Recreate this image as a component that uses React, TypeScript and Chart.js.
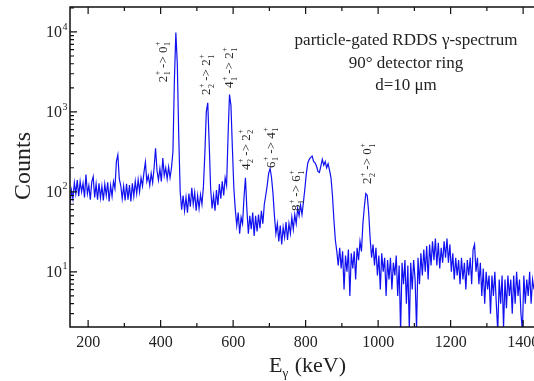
import React, { useEffect, useRef } from 'react';
import { Chart, registerables } from 'chart.js';

Chart.register(...registerables);

// ---- spectrum data: counts per 4 keV bin, first bin at 150 keV ----
const binStartKeV = 150;
const binWidthKeV = 4;
const counts: number[] = [
  70, 105, 82, 130, 95, 140, 88, 135, 100, 128, // 150-186
  85, 165, 95, 120, 80, 132, 155, 85, 125, 80, // 190-226
  128, 84, 118, 78, 125, 90, 132, 76, 120, 88, // 230-266
  135, 110, 240, 290, 145, 120, 82, 118, 78, 126, // 270-306
  80, 122, 76, 128, 88, 135, 95, 142, 100, 150, // 310-346
  118, 175, 235, 135, 160, 120, 170, 130, 200, 350, // 350-386
  185, 140, 195, 135, 265, 160, 200, 145, 205, 150, // 390-426
  200, 320, 2500, 9800, 4000, 500, 100, 60, 90, 58, // 430-466
  85, 55, 95, 65, 112, 70, 98, 58, 90, 62, // 470-506
  92, 70, 115, 300, 1000, 1300, 400, 110, 62, 90, // 510-546
  58, 105, 68, 125, 82, 135, 90, 150, 120, 500, // 550-586
  1650, 1200, 350, 110, 60, 38, 55, 30, 48, 40, // 590-626
  85, 150, 60, 30, 50, 34, 55, 28, 50, 32, // 630-666
  52, 35, 58, 40, 70, 90, 120, 170, 195, 150, // 670-706
  95, 50, 30, 40, 24, 38, 22, 36, 27, 42, // 710-746
  25, 40, 30, 48, 34, 52, 40, 62, 50, 68, // 750-786
  52, 75, 110, 170, 230, 255, 270, 280, 240, 230, // 790-826
  210, 180, 175, 210, 255, 215, 240, 200, 225, 185, // 830-866
  150, 90, 45, 25, 18, 12, 20, 11, 18, 6, // 870-906
  16, 10, 19, 5, 17, 11, 18, 8, 20, 14, // 910-946
  24, 18, 40, 65, 95, 90, 55, 26, 15, 22, // 950-986
  12, 20, 9, 16, 6, 17, 10, 15, 5, 14, // 990-1026
  8, 15, 6, 13, 9, 16, 5, 12, 1.8, 13, // 1030-1066
  7, 14, 4, 12, 1.9, 13, 6, 14, 8, 1.9, // 1070-1106
  15, 7, 17, 9, 19, 10, 21, 8, 22, 12, // 1110-1146
  24, 14, 26, 12, 23, 11, 20, 13, 24, 15, // 1150-1186
  26, 13, 22, 10, 17, 8, 15, 9, 14, 7, // 1190-1226
  15, 8, 13, 6, 14, 9, 15, 7, 19, 22, // 1230-1266
  10, 15, 7, 13, 5, 11, 4, 10, 6, 9, // 1270-1306
  3, 9, 5, 10, 4, 1.8, 8, 4, 9, 2, // 1310-1346
  8, 3.5, 9, 5, 8, 3, 9, 4, 10, 5, // 1350-1386
  8, 3, 1.8, 9, 4, 8, 5, 10, 4, 8, // 1390-1426
  6, // 1430
];

// ---- axes ----
const xMin = 150;
const xMax = 1430;
const yMin = 2.04;
const yMax = 20500;
const xMajorTicks = [200, 400, 600, 800, 1000, 1200, 1400];
const xMinorTicks = [300, 500, 700, 900, 1100, 1300];
const yDecadeExponents = [1, 2, 3, 4];

// ---- transition labels ----
const transFrom = ['2', '2', '4', '4', '6', '8', '2'];
const transFromIdx = ['1', '2', '1', '2', '1', '1', '2'];
const transTo = ['0', '2', '2', '2', '4', '6', '0'];
const transToIdx = ['1', '1', '1', '2', '1', '1', '1'];
const transEnergy = [407, 528, 591, 636, 705, 776, 972];
const transCounts = [4200, 2900, 3550, 335, 355, 103, 224];

const captionLines = ['particle-gated RDDS \u03b3-spectrum', '90\u00b0 detector ring', 'd=10 \u03bcm'];

const SERIF = "'Liberation Serif', 'Times New Roman', serif";

function drawTransition(ctx: CanvasRenderingContext2D, cx: number, cy: number, a: string, ai: string, b: string, bi: string) {
  const big = `13px ${SERIF}`;
  const small = `8px ${SERIF}`;
  ctx.save();
  ctx.font = big;
  const wa = ctx.measureText(a).width;
  const wb = ctx.measureText(b).width;
  const warrow = ctx.measureText(' -> ').width;
  ctx.font = small;
  const ws1 = Math.max(ctx.measureText('+').width, ctx.measureText(ai).width);
  const ws2 = Math.max(ctx.measureText('+').width, ctx.measureText(bi).width);
  const total = wa + ws1 + warrow + wb + ws2;
  ctx.translate(cx, cy);
  ctx.rotate(-Math.PI / 2);
  ctx.fillStyle = '#2a2a2a';
  ctx.textBaseline = 'middle';
  ctx.textAlign = 'left';
  let p = -total / 2;
  ctx.font = big;
  ctx.fillText(a, p, 0);
  p += wa;
  ctx.font = small;
  ctx.fillText('+', p + 0.5, -5);
  ctx.fillText(ai, p + 0.5, 5);
  p += ws1;
  ctx.font = big;
  ctx.fillText(' -> ', p, 0);
  p += warrow;
  ctx.fillText(b, p, 0);
  p += wb;
  ctx.font = small;
  ctx.fillText('+', p + 0.5, -5);
  ctx.fillText(bi, p + 0.5, 5);
  ctx.restore();
}

const decorPlugin = {
  id: 'decor',
  afterDraw(chart: any) {
    const { ctx, chartArea, scales } = chart;
    const { left, right, top, bottom } = chartArea;
    const x = scales.x;
    const y = scales.y;
    ctx.save();
    ctx.strokeStyle = '#111';
    ctx.lineWidth = 1.5;
    ctx.beginPath();
    ctx.moveTo(right, top);
    ctx.lineTo(left, top);
    ctx.lineTo(left, bottom);
    ctx.lineTo(right, bottom);
    ctx.stroke();

    ctx.lineWidth = 1.2;
    ctx.beginPath();
    const xt = (v: number, len: number) => {
      const px = x.getPixelForValue(v);
      ctx.moveTo(px, bottom);
      ctx.lineTo(px, bottom - len);
      ctx.moveTo(px, top);
      ctx.lineTo(px, top + len);
    };
    xMajorTicks.forEach((v) => xt(v, 7));
    xMinorTicks.forEach((v) => xt(v, 4));
    for (let e = 0; e <= 4; e++) {
      for (let m = 1; m <= 9; m++) {
        const v = m * Math.pow(10, e);
        if (v < yMin || v > yMax) continue;
        const py = y.getPixelForValue(v);
        ctx.moveTo(left, py);
        ctx.lineTo(left + (m === 1 ? 7 : 4), py);
      }
    }
    ctx.stroke();

    // y tick labels 10^n
    ctx.fillStyle = '#222';
    yDecadeExponents.forEach((e) => {
      const py = y.getPixelForValue(Math.pow(10, e));
      ctx.font = `16px ${SERIF}`;
      ctx.textAlign = 'right';
      ctx.textBaseline = 'middle';
      ctx.fillText('10', left - 8, py + 1);
      ctx.font = `10px ${SERIF}`;
      ctx.textAlign = 'left';
      ctx.fillText(String(e), left - 7.5, py - 5);
    });

    // axis titles
    ctx.save();
    ctx.translate(24, 166);
    ctx.rotate(-Math.PI / 2);
    ctx.font = `24px ${SERIF}`;
    ctx.textAlign = 'center';
    ctx.textBaseline = 'middle';
    ctx.fillText('Counts', 0, 0);
    ctx.restore();

    ctx.textAlign = 'left';
    ctx.textBaseline = 'alphabetic';
    ctx.font = `22px ${SERIF}`;
    let tx = 269;
    ctx.fillText('E', tx, 372);
    tx += ctx.measureText('E').width;
    ctx.font = `13px ${SERIF}`;
    ctx.fillText('\u03b3', tx, 377);
    tx += ctx.measureText('\u03b3').width + 1;
    ctx.font = `22px ${SERIF}`;
    ctx.fillText(' (keV)', tx, 372);

    // caption
    ctx.font = `17px ${SERIF}`;
    ctx.textAlign = 'center';
    ctx.textBaseline = 'middle';
    const capY = [41, 63.5, 86];
    captionLines.forEach((t, i) => ctx.fillText(t, 406, capY[i]));

    // transition labels
    for (let i = 0; i < transFrom.length; i++) {
      drawTransition(
        ctx,
        x.getPixelForValue(transEnergy[i]),
        y.getPixelForValue(transCounts[i]),
        transFrom[i],
        transFromIdx[i],
        transTo[i],
        transToIdx[i]
      );
    }
    ctx.restore();
  },
};

export default function App() {
  const canvasRef = useRef<HTMLCanvasElement | null>(null);

  useEffect(() => {
    const canvas = canvasRef.current;
    if (!canvas) return;
    const points = counts.map((c, i) => ({ x: binStartKeV + i * binWidthKeV, y: c }));
    const chart = new Chart(canvas, {
      type: 'line',
      data: {
        datasets: [
          {
            data: points,
            borderColor: '#1010f0',
            borderWidth: 1.2,
            pointRadius: 0,
            tension: 0,
            fill: false,
          },
        ],
      },
      options: {
        animation: false,
        responsive: false,
        devicePixelRatio: 1,
        layout: { padding: { top: 7, left: 0, right: 0, bottom: 0 } },
        plugins: { legend: { display: false }, tooltip: { enabled: false }, title: { display: false } },
        scales: {
          x: {
            type: 'linear',
            min: xMin,
            max: xMax,
            grid: { display: false, drawTicks: false },
            border: { display: false },
            afterBuildTicks: (scale: any) => {
              scale.ticks = xMajorTicks.map((v) => ({ value: v }));
            },
            afterFit: (scale: any) => {
              scale.height = 54;
              scale.paddingLeft = 0;
              scale.paddingRight = 0;
            },
            ticks: {
              autoSkip: false,
              maxRotation: 0,
              padding: 6,
              color: '#222',
              font: { family: SERIF, size: 16 },
              callback: (v: any) => String(v),
            },
          },
          y: {
            type: 'logarithmic',
            min: yMin,
            max: yMax,
            grid: { display: false, drawTicks: false },
            border: { display: false },
            ticks: { display: false },
            afterFit: (scale: any) => {
              scale.width = 70;
              scale.paddingTop = 0;
              scale.paddingBottom = 0;
            },
          },
        },
      },
      plugins: [decorPlugin],
    });
    return () => chart.destroy();
  }, []);

  return (
    <div style={{ position: 'fixed', left: 0, top: 0, width: 534, height: 381, background: '#fff' }}>
      <canvas ref={canvasRef} width={534} height={381} />
    </div>
  );
}
